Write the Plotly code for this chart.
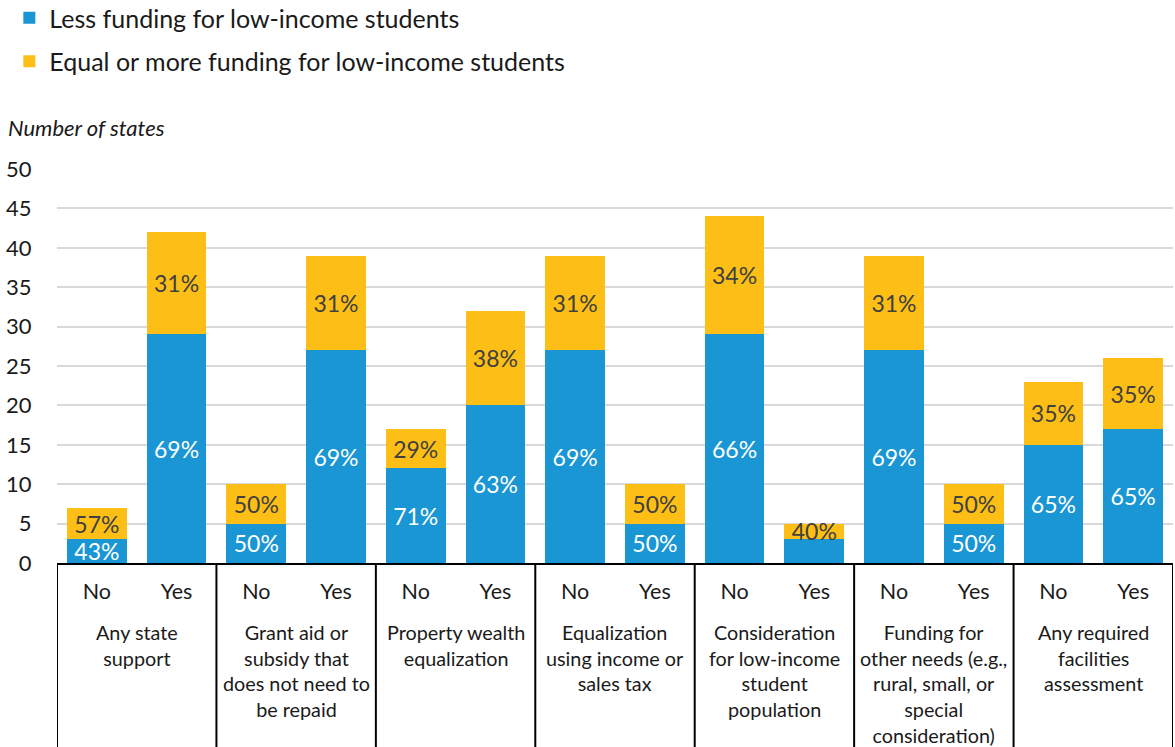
import plotly.graph_objects as go

groups = [
    "Any state<br>support",
    "Grant aid or<br>subsidy that<br>does not need to<br>be repaid",
    "Property wealth<br>equalization",
    "Equalization<br>using income or<br>sales tax",
    "Consideration<br>for low-income<br>student<br>population",
    "Funding for<br>other needs (e.g.,<br>rural, small, or<br>special<br>consideration)",
    "Any required<br>facilities<br>assessment",
]
answers = ["No", "Yes"]

less_funding = [3, 29, 5, 27, 12, 20, 27, 5, 29, 3, 27, 5, 15, 17]
equal_more = [4, 13, 5, 12, 5, 12, 12, 5, 15, 2, 12, 5, 8, 9]
less_labels = ["43%", "69%", "50%", "69%", "71%", "63%", "69%", "50%", "66%", "", "69%", "50%", "65%", "65%"]
equal_labels = ["57%", "31%", "50%", "31%", "29%", "38%", "31%", "50%", "34%", "40%", "31%", "50%", "35%", "35%"]

y_ticks = [0, 5, 10, 15, 20, 25, 30, 35, 40, 45, 50]

FONT = "Lato"
BLUE = "#1996d3"
YELLOW = "#fdbf15"

cats = [f"{gi}|{a}" for gi in range(len(groups)) for a in answers]
tick_text = [a for _ in groups for a in answers]

fig = go.Figure()
fig.add_trace(go.Bar(
    x=cats, y=less_funding, name="Less funding for low-income students",
    marker=dict(color=BLUE, line=dict(width=0)),
    text=less_labels, textposition="inside", textangle=0,
    insidetextanchor="middle", constraintext="none",
    insidetextfont=dict(family=FONT, size=23, color="white"),
    legendgroup="a", hoverinfo="skip",
))
fig.add_trace(go.Bar(
    x=cats, y=equal_more, name="Equal or more funding for low-income students",
    marker=dict(color=YELLOW, line=dict(width=0)),
    text=equal_labels, textposition="inside", textangle=0,
    insidetextanchor="middle", constraintext="none",
    insidetextfont=dict(family=FONT, size=23, color="#404040"),
    legendgroup="b", hoverinfo="skip",
))

shapes = []
for k in range(len(groups) + 1):
    shapes.append(dict(type="line", xref="x", yref="paper",
                       x0=2 * k - 0.5, x1=2 * k - 0.5, y0=0, y1=-1,
                       line=dict(color="black", width=2)))

annotations = []
for gi, g in enumerate(groups):
    annotations.append(dict(
        x=2 * gi + 0.5, xref="x", y=0, yref="paper", yanchor="top", xanchor="center",
        yshift=-55, text=g, showarrow=False, align="center",
        font=dict(family=FONT, size=19.8, color="#1a1a1a"),
    ))
annotations.append(dict(
    x=0, xref="paper", y=1, yref="paper", xanchor="left", yanchor="bottom",
    xshift=-51, yshift=26, text="<i>Number of states</i>", showarrow=False,
    font=dict(family=FONT, size=22, color="#1a1a1a"),
))

fig.update_layout(
    width=1175, height=747,
    margin=dict(l=57, r=2, t=169, b=184, autoexpand=False),
    barmode="stack", bargap=0.25,
    plot_bgcolor="white", paper_bgcolor="white",
    font=dict(family=FONT, color="#1a1a1a"),
    showlegend=True,
    legend=dict(
        xref="paper", yref="paper", x=-0.0427, y=1.4416,
        xanchor="left", yanchor="top", traceorder="grouped",
        tracegroupgap=8, font=dict(family=FONT, size=25, color="#1a1a1a"),
        bgcolor="rgba(0,0,0,0)",
    ),
    xaxis=dict(
        type="category", categoryorder="array", categoryarray=cats,
        tickvals=cats, ticktext=tick_text, range=[-0.5, len(cats) - 0.5],
        showline=True, linecolor="black", linewidth=2,
        ticks="outside", ticklen=8, tickcolor="rgba(0,0,0,0)",
        tickfont=dict(family=FONT, size=21.5, color="#1a1a1a"),
        showgrid=False, fixedrange=True, automargin=False,
    ),
    yaxis=dict(
        range=[0, 50], tickvals=y_ticks, showgrid=True,
        gridcolor="#d9d9d9", gridwidth=2, zeroline=False,
        ticks="outside", ticklen=20, tickcolor="rgba(0,0,0,0)",
        tickfont=dict(family=FONT, size=22, color="#1a1a1a"),
        fixedrange=True, automargin=False,
    ),
    shapes=shapes, annotations=annotations,
)

fig.write_html("out.html")
